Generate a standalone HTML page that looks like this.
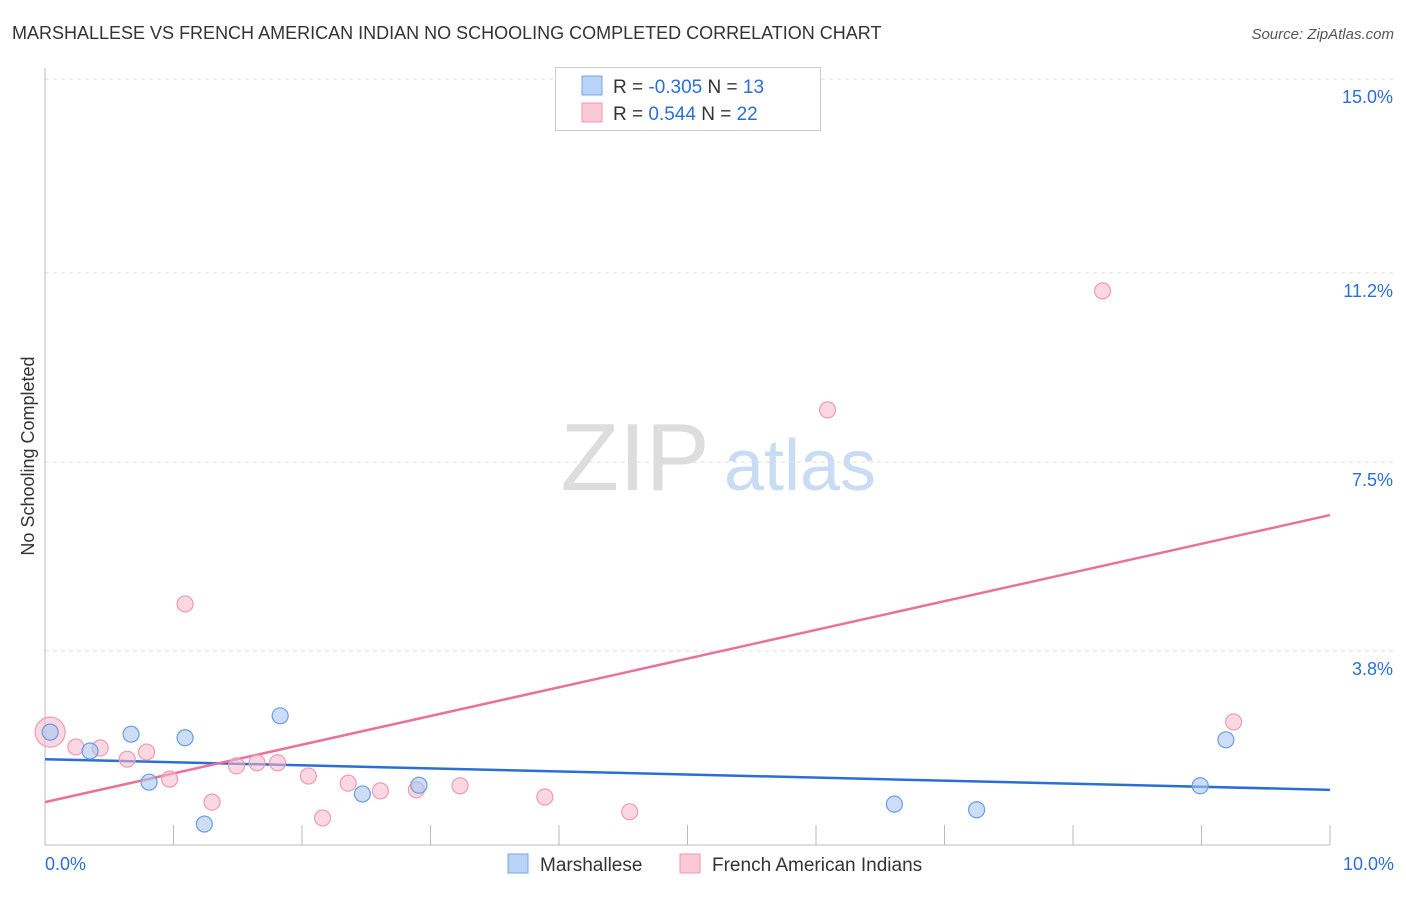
<!DOCTYPE html>
<html><head><meta charset="utf-8"><style>
body{margin:0;background:#fff;font-family:"Liberation Sans",sans-serif;}
svg text{font-family:"Liberation Sans",sans-serif;}
</style></head><body>
<svg id="chart" width="1406" height="892">
<text x="12" y="39" font-size="18" fill="#333">MARSHALLESE VS FRENCH AMERICAN INDIAN NO SCHOOLING COMPLETED CORRELATION CHART</text>
<text x="1394" y="39" font-size="15" fill="#555" font-style="italic" text-anchor="end">Source: ZipAtlas.com</text>
<text x="34" y="456" font-size="18" fill="#333" text-anchor="middle" transform="rotate(-90 34 456)">No Schooling Completed</text>
<g>
<text x="635" y="490" font-size="96" fill="#ddd" font-family="Liberation Serif,serif" text-anchor="middle">ZIP</text>
<text x="800" y="490" font-size="72" fill="#c9dcf3" text-anchor="middle">atlas</text>
</g>
<g id="grid"></g><g id="axes"></g><g id="lines"></g><g id="points"></g>
<g>
<rect x="555.5" y="67.5" width="265" height="63" fill="#fff" stroke="#ccc"/>
<rect x="582" y="76" width="20" height="19" fill="#b8d3f5" stroke="#7aa6e0"/>
<rect x="582" y="103" width="20" height="19" fill="#fbc8d6" stroke="#ee9ab2"/>
<text x="613" y="93" font-size="19" fill="#333">R = <tspan fill="#2a6fd6">-0.305</tspan>   N = <tspan fill="#2a6fd6">13</tspan></text>
<text x="613" y="120" font-size="19" fill="#333">R =  <tspan fill="#2a6fd6"> 0.544</tspan>   N = <tspan fill="#2a6fd6">22</tspan></text>
</g>
<g>
<rect x="508" y="854" width="20" height="19" fill="#b8d3f5" stroke="#7aa6e0"/>
<text x="540" y="871" font-size="19" fill="#333">Marshallese</text>
<rect x="680" y="854" width="20" height="19" fill="#fbc8d6" stroke="#ee9ab2"/>
<text x="712" y="871" font-size="19" fill="#333">French American Indians</text>
</g>
</svg>
<script>
const yTicks=[15.0,11.2,7.5,3.8];
const yTickLabels=["15.0%","11.2%","7.5%","3.8%"];
const xTickLabels=["0.0%","10.0%"];
const blueX=[0.04,0.35,0.67,0.81,1.09,1.24,1.83,2.47,2.91,6.61,7.25,8.99,9.19];
const blueY=[2.21,1.84,2.17,1.23,2.10,0.41,2.53,1.00,1.17,0.80,0.69,1.16,2.06];
const pinkX=[0.04,0.24,0.43,0.64,0.79,0.97,1.09,1.30,1.49,1.65,1.81,2.05,2.16,2.36,2.61,2.89,3.23,3.89,4.55,6.09,8.23,9.25];
const pinkY=[2.21,1.92,1.90,1.68,1.82,1.29,4.72,0.84,1.55,1.61,1.61,1.35,0.53,1.21,1.06,1.08,1.16,0.94,0.65,8.52,10.85,2.41];
const blueLine=[1.68,1.08];
const pinkLine=[0.84,6.46];
const NS="http://www.w3.org/2000/svg";
const X=v=>45+v*128.5;
const Y=v=>845-v*51.07;
function mk(t,p,a){const e=document.createElementNS(NS,t);for(const k in a)e.setAttribute(k,a[k]);p.appendChild(e);return e;}
const grid=document.getElementById('grid'),axes=document.getElementById('axes'),lines=document.getElementById('lines'),pts=document.getElementById('points');
yTicks.forEach((v,i)=>{
const l=mk('line',grid,{x1:45,x2:1394,y1:Y(v),y2:Y(v),stroke:'#ddd','stroke-dasharray':'4 4'});


const t=mk('text',grid,{x:1393,y:Y(v)+24,'font-size':18,fill:'#2a6fd6','text-anchor':'end'});
t.textContent=yTickLabels[i];


});
const ay=mk('line',axes,{x1:45,x2:45,y1:68,y2:845,stroke:'#bbb'});


const ax=mk('line',axes,{x1:45,x2:1330,y1:845,y2:845,stroke:'#bbb'});


for(let i=0;i<=10;i++){const tk=mk('line',axes,{x1:X(i),x2:X(i),y1:825,y2:845,stroke:'#bbb'});

}
[[0,'start',45],[10,'end',1394]].forEach((d,i)=>{const t=mk('text',axes,{x:d[2],y:870,'font-size':18,fill:'#2a6fd6','text-anchor':d[1]});t.textContent=xTickLabels[i];

});
const bl=mk('line',lines,{x1:X(0),x2:X(10),y1:Y(blueLine[0]),y2:Y(blueLine[1]),stroke:'#2a6fd6','stroke-width':2.5});


const pl=mk('line',lines,{x1:X(0),x2:X(10),y1:Y(pinkLine[0]),y2:Y(pinkLine[1]),stroke:'#e8729a','stroke-width':2.5});


pinkX.forEach((x,i)=>{const c=mk('circle',pts,{cx:X(x),cy:Y(pinkY[i]),r:i==0?15:8,fill:'rgba(247,184,200,0.55)',stroke:'#ee9ab2','stroke-width':1.2});

});
blueX.forEach((x,i)=>{const c=mk('circle',pts,{cx:X(x),cy:Y(blueY[i]),r:8,fill:'rgba(169,200,240,0.6)',stroke:'#6b9de0','stroke-width':1.2});

});
</script>
</body></html>
